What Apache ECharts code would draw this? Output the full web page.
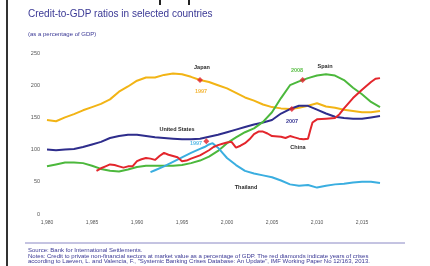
<!DOCTYPE html>
<html>
<head>
<meta charset="utf-8">
<script src="https://cdn.jsdelivr.net/npm/echarts@6/dist/echarts.min.js"></script>
<style>
  html, body { margin: 0; padding: 0; background: #fff; }
  #main { width: 430px; height: 266px; }
</style>
</head>
<body>
<div id="main"></div>
<script>
// yearly series (Japan, United States, Spain)
var years = [1980, 1981, 1982, 1983, 1984, 1985, 1986, 1987, 1988, 1989,
             1990, 1991, 1992, 1993, 1994, 1995, 1996, 1997, 1998, 1999,
             2000, 2001, 2002, 2003, 2004, 2005, 2006, 2007, 2008, 2009,
             2010, 2011, 2012, 2013, 2014, 2015, 2016, 2017];
var japan = [146, 144, 150, 155, 161, 166, 171, 178, 190, 198,
             207, 212, 212, 216, 218, 217, 213, 208, 205, 200,
             195, 188, 181, 176, 170, 166, 164, 163, 165, 168,
             172, 167, 165, 162, 160, 158, 158, 160];
var unitedStates = [100, 99, 100, 101, 104, 108, 112, 118, 121, 123,
                    123, 121, 119, 118, 117, 116, 116, 117, 120, 123,
                    127, 131, 135, 139, 142, 146, 156, 163, 168, 168,
                    162, 156, 151, 149, 148, 148, 150, 152];
var spain = [74, 77, 80, 80, 79, 75, 70, 67, 66, 69,
             73, 75, 75, 75, 75, 76, 79, 83, 89, 98,
             110, 119, 127, 133, 143, 158, 180, 200, 206, 211,
             215, 217, 215, 208, 196, 186, 174, 166];

// China starts in 1985, half-year steps
var chinaYears = [1985.5, 1986, 1986.5, 1987, 1987.5, 1988, 1988.5, 1989, 1989.5, 1990,
                  1990.5, 1991, 1991.5, 1992, 1992.5, 1993, 1993.5, 1994, 1994.5, 1995,
                  1995.5, 1996, 1997, 1998, 1998.5, 1999, 1999.5, 2000, 2000.5, 2001,
                  2001.5, 2002, 2002.5, 2003, 2003.5, 2004, 2004.5, 2005, 2006, 2006.5,
                  2007, 2007.5, 2008, 2008.5, 2009, 2009.25, 2009.5, 2010, 2011, 2012,
                  2012.5, 2013, 2014, 2015, 2016, 2016.5, 2017];
var china = [67, 71, 74, 77, 76, 74, 72, 74, 74, 82,
             85, 87, 86, 84, 90, 95, 92, 90, 88, 82,
             83, 86, 91, 99, 104, 107, 109, 111, 112, 103,
             106, 110, 116, 124, 128, 128, 125, 121, 120, 118,
             121, 119, 117, 116, 117, 130, 142, 147, 148, 149,
             155, 164, 180, 193, 205, 210, 211];

// Thailand starts in 1991
var thailandYears = [1991.5, 1992, 1993, 1994, 1995, 1996, 1997, 1997.5, 1998, 1998.4,
                     1999, 1999.5, 2000, 2001, 2002, 2003, 2004, 2005, 2006, 2007,
                     2008, 2009, 2010, 2011, 2012, 2013, 2014, 2015, 2016, 2017];
var thailand = [65, 68, 74, 81, 88, 95, 101, 104, 108, 110,
                103, 95, 87, 76, 67, 63, 60, 57, 52, 46,
                44, 45, 41, 44, 46, 47, 49, 50, 50, 48];

// red diamonds: crisis years [year, ratio]
var crises = [[1997, 208], [1997.7, 113], [2007.2, 163], [2008.4, 208]];

var yTicks = { min: 0, max: 250, step: 50 };
var xTicks = { min: 1980, max: 2019, step: 5 };

function pairs(xs, ys) {
    var out = [];
    for (var i = 0; i < xs.length; i++) out.push([xs[i], ys[i]]);
    return out;
}

var navy = '#3a3895';
var myChart = echarts.init(document.getElementById('main'));

function lineSeries(name, data, color) {
    return {
        name: name,
        type: 'line',
        data: data,
        symbol: 'none',
        lineStyle: { color: color, width: 2 },
        itemStyle: { color: color },
        animation: false
    };
}

function note(text, x, y, color) {
    return {
        type: 'text',
        x: x, y: y,
        style: {
            text: text,
            fill: color || '#2a2a2a',
            font: 'bold 5.5px "Liberation Sans", Arial, sans-serif',
            textAlign: 'center',
            textVerticalAlign: 'middle'
        },
        z: 20
    };
}

var option = {
    backgroundColor: '#ffffff',
    animation: false,
    title: [{
        text: 'Credit-to-GDP ratios in selected countries',
        left: 28, top: 9, padding: 0,
        textStyle: { fontFamily: 'Liberation Sans', fontSize: 10, fontWeight: 'normal', color: navy }
    }, {
        text: '(as a percentage of GDP)',
        left: 28, top: 31, padding: 0,
        textStyle: { fontFamily: 'Liberation Sans', fontSize: 6, fontWeight: 'normal', color: navy }
    }],
    grid: { left: 47, right: 32, top: 53, bottom: 52 },
    xAxis: {
        type: 'value',
        min: xTicks.min, max: xTicks.max, interval: xTicks.step,
        axisLine: { show: false },
        axisTick: { show: false },
        splitLine: { show: false },
        axisLabel: { fontFamily: 'Liberation Sans', fontSize: 5, color: '#555', margin: 6, showMaxLabel: false }
    },
    yAxis: {
        type: 'value',
        min: yTicks.min, max: yTicks.max, interval: yTicks.step,
        axisLine: { show: false },
        axisTick: { show: false },
        splitLine: { show: false },
        axisLabel: { fontFamily: 'Liberation Sans', fontSize: 5.5, color: '#555', margin: 7 }
    },
    series: [
        lineSeries('Japan', pairs(years, japan), '#f2b415'),
        lineSeries('United States', pairs(years, unitedStates), '#2e2d8c'),
        lineSeries('Spain', pairs(years, spain), '#4cb83c'),
        lineSeries('Thailand', pairs(thailandYears, thailand), '#3aaee0'),
        lineSeries('China', pairs(chinaYears, china), '#e3262c'),
        {
            name: 'Crises',
            type: 'scatter',
            data: crises,
            symbol: 'diamond',
            symbolSize: 6,
            itemStyle: { color: '#e0202a' },
            z: 10,
            animation: false
        }
    ],
    graphic: [
        // left page edge
        { type: 'line', shape: { x1: 7, y1: 0, x2: 7, y2: 266 }, style: { stroke: '#333', lineWidth: 2 } },
        { type: 'rect', shape: { x: 159, y: 0, width: 2, height: 5 }, style: { fill: '#222' } },
        { type: 'rect', shape: { x: 188, y: 0, width: 2, height: 5 }, style: { fill: '#222' } },
        note('Japan', 202, 67),
        note('1997', 201, 91, '#f4b73a'),
        note('United States', 177, 129),
        note('1997', 196, 143, '#5cbde8'),
        note('2008', 297, 70, '#5cbf48'),
        note('Spain', 325, 66),
        note('2007', 292, 121, '#3a3895'),
        note('China', 298, 147),
        note('Thailand', 246, 187),
        { type: 'line', shape: { x1: 25, y1: 243, x2: 405, y2: 243 }, style: { stroke: '#8a88c4', lineWidth: 1 } },
        {
            type: 'text', x: 28, y: 248,
            style: {
                text: 'Source: Bank for International Settlements.\n' +
                      'Notes: Credit to private non-financial sectors at market value as a percentage of GDP. The red diamonds indicate years of crises\n' +
                      'according to Laeven, L. and Valencia, F., "Systemic Banking Crises Database: An Update", IMF Working Paper No 12/163, 2013.',
                fill: navy,
                font: '6px "Liberation Sans", Arial, sans-serif',
                lineHeight: 5.5
            }
        }
    ]
};

myChart.setOption(option);
</script>
</body>
</html>
